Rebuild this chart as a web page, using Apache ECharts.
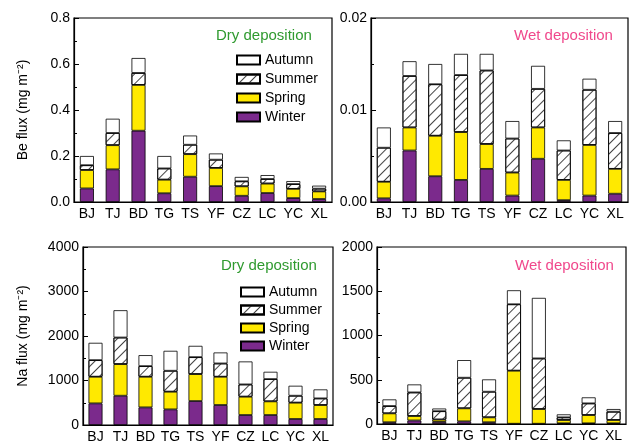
<!DOCTYPE html>
<html>
<head>
<meta charset="utf-8">
<script src="https://cdn.jsdelivr.net/npm/echarts@6/dist/echarts.min.js"></script>
<style>
  html, body { margin: 0; padding: 0; background: #fff; }
  #chart { width: 629px; height: 445px; }
</style>
</head>
<body>
<div id="chart"></div>
<script>
// Sampling sites
const sites = ['BJ', 'TJ', 'BD', 'TG', 'TS', 'YF', 'CZ', 'LC', 'YC', 'XL'];

// Be dry deposition flux per season (mg m-2)
const beDryWinter = [0.059, 0.142, 0.310, 0.038, 0.110, 0.069, 0.027, 0.039, 0.017, 0.013];
const beDrySpring = [0.080, 0.105, 0.199, 0.059, 0.098, 0.079, 0.041, 0.041, 0.040, 0.033];
const beDrySummer = [0.021, 0.053, 0.052, 0.049, 0.041, 0.036, 0.022, 0.020, 0.021, 0.012];
const beDryAutumn = [0.040, 0.062, 0.065, 0.054, 0.040, 0.027, 0.019, 0.017, 0.013, 0.013];

// Be wet deposition flux per season (mg m-2)
const beWetWinter = [0.0004, 0.0056, 0.0028, 0.0024, 0.0036, 0.0007, 0.0047, 0.0002, 0.0007, 0.0009];
const beWetSpring = [0.0018, 0.0025, 0.0044, 0.0052, 0.0027, 0.0025, 0.0034, 0.0022, 0.0055, 0.0027];
const beWetSummer = [0.0037, 0.0056, 0.0056, 0.0062, 0.0080, 0.0037, 0.0042, 0.0032, 0.0060, 0.0039];
const beWetAutumn = [0.0022, 0.0016, 0.0022, 0.0023, 0.0018, 0.0019, 0.0025, 0.0011, 0.0012, 0.0013];

// Na dry deposition flux per season (mg m-2)
const naDryWinter = [486, 658, 396, 351, 538, 449, 224, 224, 135, 135];
const naDrySpring = [598, 710, 688, 397, 606, 635, 412, 307, 366, 313];
const naDrySummer = [374, 598, 239, 471, 381, 299, 276, 501, 157, 150];
const naDryAutumn = [389, 613, 247, 448, 254, 247, 516, 164, 224, 202];

// Na wet deposition flux per season (mg m-2)
const naWetWinter = [20, 40, 24, 30, 20, 3, 3, 8, 8, 8];
const naWetSpring = [100, 50, 26, 147, 55, 599, 166, 37, 93, 37];
const naWetSummer = [83, 267, 95, 346, 290, 751, 572, 30, 132, 94];
const naWetAutumn = [75, 90, 30, 199, 139, 158, 684, 34, 68, 30];

const seasonOrder = ['Autumn', 'Summer', 'Spring', 'Winter'];

const FONT = 'Liberation Sans, Arial, sans-serif';
const colWinter = '#7b2a8c';
const colSpring = '#ffe900';

// diagonal hatching for the summer segments
const hatch = {
  symbol: 'rect',
  symbolSize: 1,
  dashArrayX: [1, 0],
  dashArrayY: [1, 6],
  rotation: -Math.PI / 4,
  color: '#444'
};

const grids = [
  { left: 74, top: 18, width: 258, height: 184 },
  { left: 371, top: 18, width: 257, height: 184 },
  { left: 83, top: 247, width: 250, height: 178 },
  { left: 377, top: 247, width: 249, height: 177 }
];

const yDefs = [
  { min: 0, max: 0.8, interval: 0.2, fmt: v => v.toFixed(1), name: 'Be flux (mg m\u207B\u00B2)', gap: 44 },
  { min: 0, max: 0.02, interval: 0.01, fmt: v => v.toFixed(2), name: '', gap: 0 },
  { min: 0, max: 4000, interval: 1000, fmt: v => String(v), name: 'Na flux (mg m\u207B\u00B2)', gap: 53 },
  { min: 0, max: 2000, interval: 500, fmt: v => String(v), name: '', gap: 0 }
];

const panelData = [
  [beDryWinter, beDrySpring, beDrySummer, beDryAutumn],
  [beWetWinter, beWetSpring, beWetSummer, beWetAutumn],
  [naDryWinter, naDrySpring, naDrySummer, naDryAutumn],
  [naWetWinter, naWetSpring, naWetSummer, naWetAutumn]
];

const xAxes = grids.map((g, i) => ({
  type: 'category',
  gridIndex: i,
  data: sites,
  axisLine: { lineStyle: { color: '#000', width: 1.2 } },
  axisTick: { inside: true, length: 4, lineStyle: { color: '#000' } },
  axisLabel: { color: '#000', fontSize: 14, fontFamily: FONT, margin: 5, interval: 0 },
  splitLine: { show: false }
}));

const yAxes = yDefs.map((d, i) => ({
  type: 'value',
  gridIndex: i,
  min: d.min,
  max: d.max,
  interval: d.interval,
  name: d.name,
  nameLocation: 'middle',
  nameGap: d.gap,
  nameTextStyle: { color: '#000', fontSize: 14, fontFamily: FONT },
  axisLine: { show: true, lineStyle: { color: '#000', width: 1.2 } },
  axisTick: { show: true, inside: true, length: 5, lineStyle: { color: '#000' } },
  minorTick: { show: true, splitNumber: 2, length: 3, lineStyle: { color: '#000' } },
  axisLabel: { color: '#000', fontSize: 14, fontFamily: FONT, margin: 4, formatter: d.fmt },
  splitLine: { show: false }
}));

const series = [];
panelData.forEach((arrs, i) => {
  const [w, sp, su, au] = arrs;
  const stack = 'p' + i;
  const common = { type: 'bar', xAxisIndex: i, yAxisIndex: i, stack, barWidth: 14 };
  series.push(Object.assign({}, common, {
    name: 'Winter', data: w,
    itemStyle: { color: colWinter, borderColor: '#000', borderWidth: 0.8 }
  }));
  series.push(Object.assign({}, common, {
    name: 'Spring', data: sp,
    itemStyle: { color: colSpring, borderColor: '#000', borderWidth: 0.8 }
  }));
  series.push(Object.assign({}, common, {
    name: 'Summer', data: su,
    itemStyle: { color: '#fff', borderColor: '#000', borderWidth: 0.8, decal: hatch }
  }));
  series.push(Object.assign({}, common, {
    name: 'Autumn', data: au,
    itemStyle: { color: '#fff', borderColor: '#000', borderWidth: 0.8 }
  }));
});

const legendBase = {
  orient: 'vertical',
  data: seasonOrder,
  icon: 'rect',
  itemWidth: 23,
  itemHeight: 9,
  itemGap: 5,
  selectedMode: false,
  textStyle: { color: '#000', fontSize: 14, fontFamily: FONT }
};

const titleStyle = (color) => ({ color, fontSize: 15, fontWeight: 'normal', fontFamily: FONT });

const option = {
  animation: false,
  backgroundColor: '#fff',
  grid: grids.map(g => Object.assign({ show: true, borderColor: '#000', borderWidth: 1.2, containLabel: false }, g)),
  xAxis: xAxes,
  yAxis: yAxes,
  legend: [
    Object.assign({}, legendBase, { left: 231, top: 48 }),
    Object.assign({}, legendBase, { left: 235, top: 280, itemGap: 4 })
  ],
  title: [
    { text: 'Dry deposition', left: 211, top: 23, textStyle: titleStyle('#2f9a2f') },
    { text: 'Wet deposition', left: 509, top: 23, textStyle: titleStyle('#f0488c') },
    { text: 'Dry deposition', left: 216, top: 253, textStyle: titleStyle('#2f9a2f') },
    { text: 'Wet deposition', left: 510, top: 253, textStyle: titleStyle('#f0488c') }
  ],
  series
};

const chart = echarts.init(document.getElementById('chart'), null, { renderer: 'canvas' });
chart.setOption(option);
</script>
</body>
</html>
